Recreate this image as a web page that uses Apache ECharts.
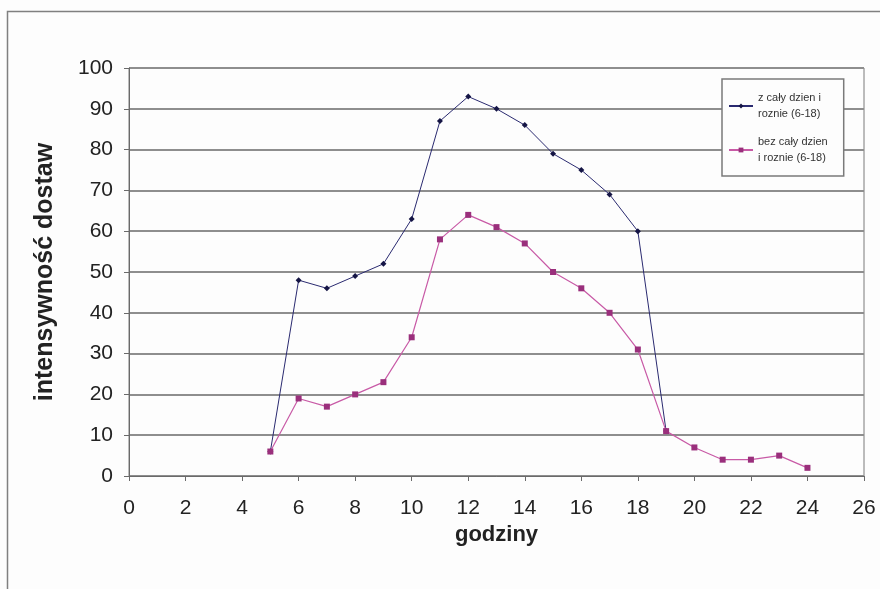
<!DOCTYPE html>
<html>
<head>
<meta charset="utf-8">
<script src="https://cdn.jsdelivr.net/npm/echarts@6/dist/echarts.min.js"></script>
<style>
html,body{margin:0;padding:0;background:#fdfdfd;}
#chart{width:880px;height:589px;}
</style>
</head>
<body>
<div id="chart"></div>
<script>
// Data
var hoursA = [5, 6, 7, 8, 9, 10, 11, 12, 13, 14, 15, 16, 17, 18, 19];
var valuesA = [6, 48, 46, 49, 52, 63, 87, 93, 90, 86, 79, 75, 69, 60, 11];
var hoursB = [5, 6, 7, 8, 9, 10, 11, 12, 13, 14, 15, 16, 17, 18, 19, 20, 21, 22, 23, 24];
var valuesB = [6, 19, 17, 20, 23, 34, 58, 64, 61, 57, 50, 46, 40, 31, 11, 7, 4, 4, 5, 2];
var seriesNames = ['z cały dzien i\nroznie (6-18)', 'bez cały dzien\ni roznie (6-18)'];
var xTitle = 'godziny';
var yTitle = 'intensywność dostaw';

function pairs(xs, ys) { return xs.map(function (x, i) { return [x, ys[i]]; }); }

var chart = echarts.init(document.getElementById('chart'));
var font = 'Liberation Sans, Arial, sans-serif';
chart.setOption({
  backgroundColor: '#fdfdfd',
  animation: false,
  graphic: [{
    type: 'rect', left: 5, top: 9,
    shape: { width: 900, height: 600 },
    style: { fill: 'none', stroke: '#808080', lineWidth: 1.5 },
    z: -1
  }],
  grid: { left: 129, right: 16, top: 68, bottom: 113, show: true, borderColor: '#7a7a7a', borderWidth: 1, backgroundColor: 'transparent' },
  legend: {
    orient: 'vertical', left: 722, top: 79,
    padding: [11, 16, 10, 6], itemGap: 12,
    itemWidth: 24, itemHeight: 6,
    borderColor: '#7a7a7a', borderWidth: 1.5, backgroundColor: '#fdfdfd',
    textStyle: { fontFamily: font, fontSize: 11, color: '#333', lineHeight: 16 },
    data: seriesNames
  },
  xAxis: {
    type: 'value', min: 0, max: 26, interval: 2,
    name: xTitle, nameLocation: 'middle', nameGap: 48,
    nameTextStyle: { fontFamily: font, fontSize: 22, fontWeight: 'bold', color: '#222' },
    axisLine: { show: true, lineStyle: { color: '#6a6a6a', width: 1 } },
    axisTick: { show: true, inside: false, length: 5, lineStyle: { color: '#6a6a6a' } },
    axisLabel: { fontFamily: font, fontSize: 21, color: '#222', margin: 22 },
    splitLine: { show: false }
  },
  yAxis: {
    type: 'value', min: 0, max: 100, interval: 10,
    name: yTitle, nameLocation: 'middle', nameGap: 71, nameRotate: 90,
    nameTextStyle: { fontFamily: font, fontSize: 25, fontWeight: 'bold', color: '#222' },
    axisLine: { show: true, lineStyle: { color: '#6a6a6a', width: 1 } },
    axisTick: { show: true, inside: false, length: 5, lineStyle: { color: '#6a6a6a' } },
    axisLabel: { fontFamily: font, fontSize: 21, color: '#222', margin: 16 },
    splitLine: { show: true, lineStyle: { color: '#8e8e8e', width: 2 } }
  },
  series: [
    {
      name: seriesNames[0], type: 'line', data: pairs(hoursA, valuesA),
      symbol: 'diamond', symbolSize: 6,
      lineStyle: { color: '#2a2a70', width: 1 },
      itemStyle: { color: '#151545' },
      z: 2
    },
    {
      name: seriesNames[1], type: 'line', data: pairs(hoursB, valuesB),
      symbol: 'rect', symbolSize: 6,
      lineStyle: { color: '#c85aa6', width: 1.2 },
      itemStyle: { color: '#9a2f7c' },
      z: 3
    }
  ]
});
</script>
</body>
</html>
